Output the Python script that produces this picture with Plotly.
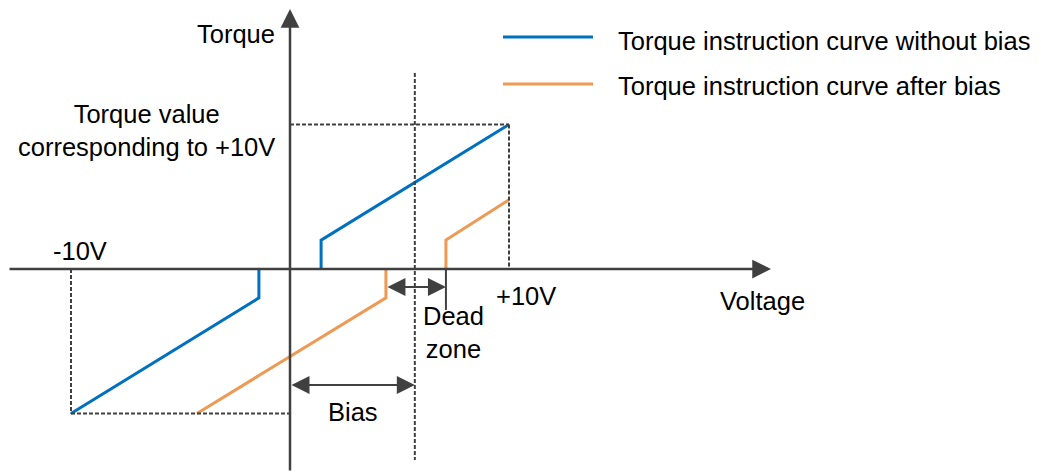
import plotly.graph_objects as go

# --- Torque command vs. analog voltage, with and without a bias offset ---
# Voltage in volts, torque in % of the torque reached at +10 V.
blue_pos_volt = [1.42, 1.42, 10.0]
blue_pos_torque = [0, 20, 100]
blue_neg_volt = [-10.0, -1.42, -1.42]
blue_neg_torque = [-100, -20, 0]

orange_pos_volt = [7.12, 7.12, 10.0]
orange_pos_torque = [0, 20, 48]
orange_neg_volt = [-4.25, 4.38, 4.38]
orange_neg_torque = [-100, -20, 0]

bias_volt = 5.7
rated_volt = 10.0
rated_torque = 100

BLUE = "#0070C0"
ORANGE = "#EE9A55"
GRAY = "#404040"
FONT = "Liberation Sans, Arial, sans-serif"

W, H = 1041, 473
# canvas scale: pixels per volt / per torque unit, and origin position
SX, SY = 21.9, 1.445
OX, OY = 290, 269


def vx(px):
    return (px - OX) / SX


def ty(py):
    return (OY - py) / SY


fig = go.Figure()

for xs, ys, col in [
    (blue_pos_volt, blue_pos_torque, BLUE),
    (blue_neg_volt, blue_neg_torque, BLUE),
    (orange_pos_volt, orange_pos_torque, ORANGE),
    (orange_neg_volt, orange_neg_torque, ORANGE),
]:
    fig.add_trace(go.Scatter(x=xs, y=ys, mode="lines",
                             line=dict(color=col, width=3),
                             showlegend=False, hoverinfo="skip"))

shapes = []
dash = dict(color=GRAY, width=2, dash="4px,2px")
# guide lines to the +10 V and -10 V end points
shapes.append(dict(type="line", x0=0, y0=rated_torque, x1=rated_volt, y1=rated_torque, line=dash))
shapes.append(dict(type="line", x0=rated_volt, y0=rated_torque, x1=rated_volt, y1=0, line=dash))
shapes.append(dict(type="line", x0=-rated_volt, y0=0, x1=-rated_volt, y1=-rated_torque, line=dash))
shapes.append(dict(type="line", x0=-rated_volt, y0=-rated_torque, x1=0, y1=-rated_torque, line=dash))
# bias position
shapes.append(dict(type="line", x0=bias_volt, y0=ty(73), x1=bias_volt, y1=ty(460), line=dash))
# dead-zone end tick below the axis
shapes.append(dict(type="line", x0=orange_pos_volt[0], y0=0, x1=orange_pos_volt[0], y1=ty(310),
                   line=dict(color=GRAY, width=2)))

# legend samples
for py, col in [(37, BLUE), (84, ORANGE)]:
    shapes.append(dict(type="line", xref="paper", yref="paper",
                       x0=503 / W, x1=593 / W, y0=1 - py / H, y1=1 - py / H,
                       line=dict(color=col, width=3)))

annotations = []


def arrow(x, y, ax, ay, width, size, both=False):
    annotations.append(dict(
        x=x, y=y, ax=ax, ay=ay, xref="x", yref="y", axref="x", ayref="y",
        text="", showarrow=True, arrowhead=2, arrowsize=size, arrowwidth=width,
        arrowcolor=GRAY, arrowside="end+start" if both else "end",
        startarrowhead=2, startarrowsize=size, standoff=0, startstandoff=0))


# coordinate axes
arrow(vx(771), 0, vx(8), 0, 2.5, 1.5)
arrow(0, ty(9), 0, ty(472), 2.5, 1.5)
# bias and dead-zone spans
arrow(bias_volt, ty(385), 0, ty(385), 2, 1.8, both=True)
arrow(orange_pos_volt[0], ty(287), orange_neg_volt[-1], ty(287), 2, 1.8, both=True)


def label(text, px, py, anchor="center"):
    annotations.append(dict(
        text=text, x=px / W, y=1 - py / H, xref="paper", yref="paper",
        xanchor=anchor, yanchor="middle", showarrow=False,
        font=dict(family=FONT, size=25.5, color="#000000")))


label("Torque", 236, 34)
label("Torque value<br>corresponding to +10V", 146, 130)
label("-10V", 80, 251)
label("+10V", 526, 296)
label("Voltage", 762, 301)
label("Dead<br>zone", 453, 332)
label("Bias", 353, 412)
label("Torque instruction curve without bias", 616, 41, anchor="left")
label("Torque instruction curve after bias", 616, 86, anchor="left")

fig.update_layout(
    width=W, height=H,
    margin=dict(l=0, r=0, t=0, b=0),
    paper_bgcolor="white", plot_bgcolor="white",
    xaxis=dict(range=[vx(0), vx(W)], visible=False, fixedrange=True),
    yaxis=dict(range=[ty(H), ty(0)], visible=False, fixedrange=True),
    shapes=shapes, annotations=annotations,
    showlegend=False,
)

fig.write_html("out.html")
